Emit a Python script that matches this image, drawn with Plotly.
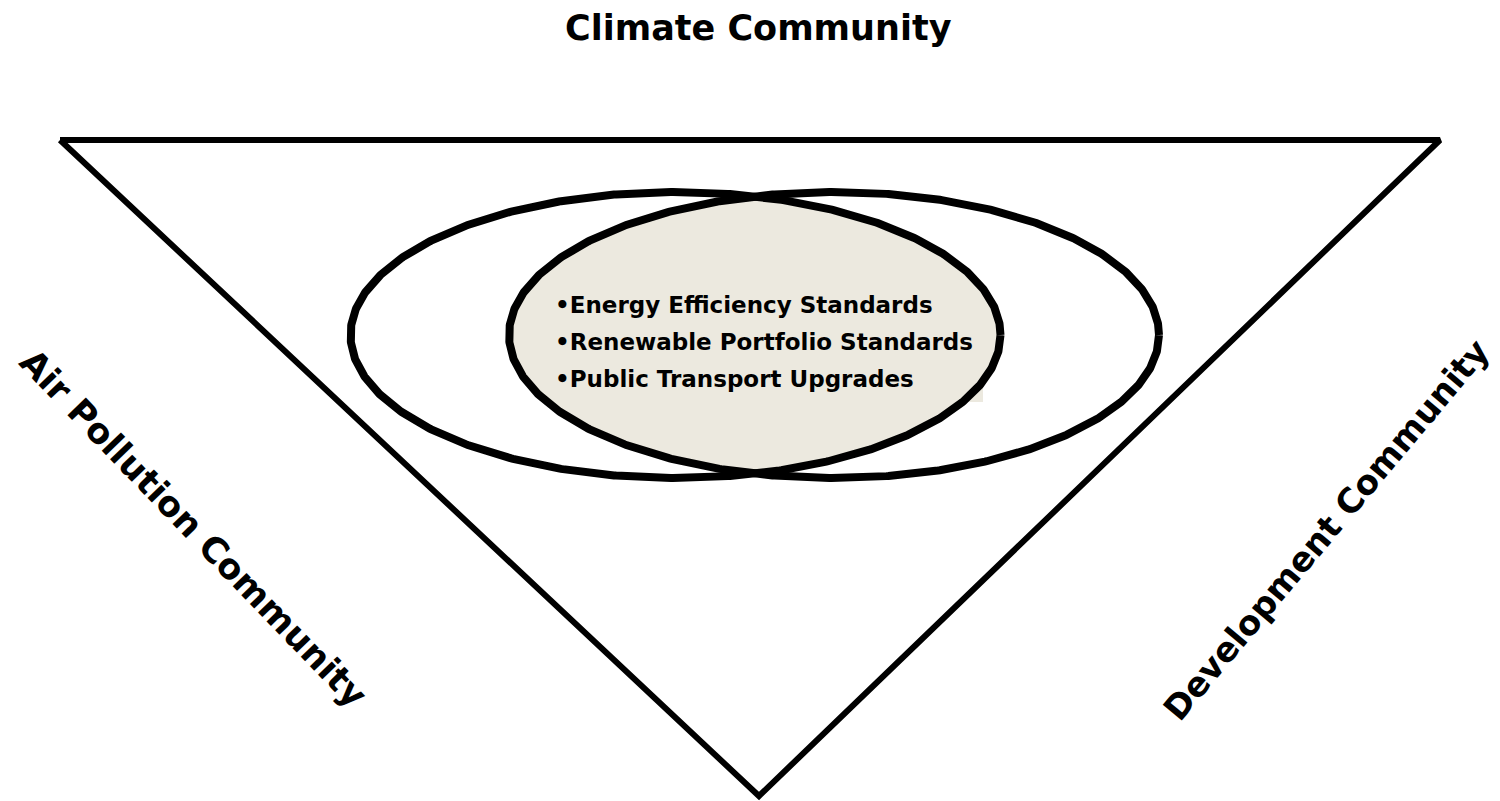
import numpy as np
import plotly.graph_objects as go

# ---- content ----
title_text = "Climate Community"
left_label = "Air Pollution Community"
right_label = "Development Community"
overlap_items = ["Energy Efficiency Standards",
                 "Renewable Portfolio Standards",
                 "Public Transport Upgrades"]

# ---- geometry (pixel space, y downward) ----
W, H = 1500, 801
tri_x = [60, 1440, 759, 60]
tri_y = [140, 140, 796, 140]
ell_cy, ell_rx, ell_ry = 335, 325, 143
ell_cx = [675.5, 834]
FILL = "#ECE9DF"
FONT = "DejaVu Sans"

fig = go.Figure()

# text box background (pokes slightly out of lens)
fig.add_shape(type="rect", x0=548, x1=983, y0=285, y1=402,
              fillcolor=FILL, line_width=0, layer="below")

# lens fill
d = (ell_cx[1] - ell_cx[0]) / 2
th = np.arccos(d / ell_rx)
t1 = np.linspace(-th, th, 300)
t2 = np.linspace(np.pi - th, np.pi + th, 300)
lx = np.concatenate([ell_cx[0] + ell_rx * np.cos(t1), ell_cx[1] + ell_rx * np.cos(t2)[::-1]])
ly = np.concatenate([ell_cy + ell_ry * np.sin(t1), ell_cy + ell_ry * np.sin(t2)[::-1]])
fig.add_trace(go.Scatter(x=lx, y=ly, fill="toself", fillcolor=FILL, mode="none",
                         hoverinfo="skip", showlegend=False))

# triangle
fig.add_trace(go.Scatter(x=tri_x, y=tri_y, mode="lines",
                         line=dict(color="black", width=6), hoverinfo="skip",
                         showlegend=False))

# ellipses
t = np.linspace(0, 2 * np.pi, 1000)
for cx in ell_cx:
    fig.add_trace(go.Scatter(x=cx + ell_rx * np.cos(t), y=ell_cy + ell_ry * np.sin(t),
                             mode="lines", line=dict(color="black", width=8),
                             hoverinfo="skip", showlegend=False))

# labels
fig.add_annotation(x=758, y=28, text=f"<b>{title_text}</b>", showarrow=False,
                   font=dict(family=FONT, size=35, color="black"))
fig.add_annotation(x=193, y=528, text=f"<b>{left_label}</b>", showarrow=False,
                   textangle=46, font=dict(family=FONT, size=35, color="black"))
fig.add_annotation(x=1326, y=530, text=f"<b>{right_label}</b>", showarrow=False,
                   textangle=-50, font=dict(family=FONT, size=34, color="black"))

line_y = [305, 342, 379]
for yy, item in zip(line_y, overlap_items):
    fig.add_annotation(x=553, y=yy, text=f"<b>\u2022{item}</b>", showarrow=False,
                       xanchor="left", yanchor="middle",
                       font=dict(family=FONT, size=23, color="black"))

fig.update_xaxes(range=[0, W], visible=False, fixedrange=True)
fig.update_yaxes(range=[H, 0], visible=False, fixedrange=True)
fig.update_layout(width=W, height=H, margin=dict(l=0, r=0, t=0, b=0),
                  plot_bgcolor="white", paper_bgcolor="white", showlegend=False)

fig.write_html("out.html", config={"displayModeBar": False},
               post_script="document.body.style.margin='0';document.body.style.overflow='hidden';")
